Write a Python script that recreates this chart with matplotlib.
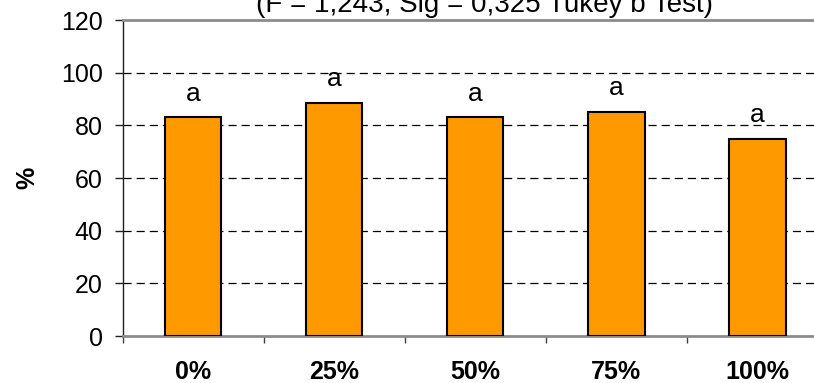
import matplotlib
matplotlib.use("Agg")
import matplotlib.pyplot as plt
import numpy as np

categories = ["0%", "25%", "50%", "75%", "100%"]
values = [83.0, 88.6, 83.0, 85.2, 74.8]
letters = ["a", "a", "a", "a", "a"]
yticks = [0, 20, 40, 60, 80, 100, 120]
title = "(F = 1,243, Sig = 0,325 Tukey b Test)"

plt.rcParams['font.family'] = ['Liberation Sans', 'DejaVu Sans']

fig = plt.figure(figsize=(8.14, 3.83), dpi=100)
ax = fig.add_axes([122.5/814, 47/383, (828-122.5)/814, 316/383])

x = np.arange(len(categories))
ax.bar(x, values, width=0.40, color="#FF9900", edgecolor="black", linewidth=1.5, zorder=3)
for xi, v, l in zip(x, values, letters):
    ax.annotate(l, (xi, v), xytext=(0, 12), textcoords="offset points",
                ha="center", va="baseline", fontsize=19, zorder=4)

ax.set_xlim(-0.5, len(categories) - 0.5)
ax.set_ylim(0, 120)
ax.set_yticks(yticks)
ax.set_yticklabels([str(t) for t in yticks], fontsize=18)
for t in yticks[1:-1]:
    ax.axhline(t, color="black", linestyle=(0, (6.5, 4)), linewidth=0.9, zorder=1)

ax.set_xticks(x)
ax.set_xticklabels(categories, fontsize=18, fontweight="bold")
ax.set_xticks(np.arange(len(categories) + 1) - 0.5, minor=True)
ax.tick_params(axis="x", which="major", length=0, pad=17.5)
ax.tick_params(axis="x", which="minor", length=5, width=1, direction="out", color="#404040")
ax.tick_params(axis="y", length=5.8, width=1, direction="out", pad=8.6, color="#202020")

ax.spines["top"].set_color("#8c8c8c")
ax.spines["top"].set_linewidth(2)
ax.spines["bottom"].set_color("#8c8c8c")
ax.spines["bottom"].set_linewidth(2)
ax.spines["left"].set_color("#202020")
ax.spines["left"].set_linewidth(1)
ax.spines["right"].set_visible(False)

ax.set_ylabel("%", fontsize=18, fontweight="bold")
ax.yaxis.set_label_coords((27 - 122.5) / 705.5, 0.5)
ax.yaxis.label.set_va("center")

fig.text(484/814, 1 - 12/383, title, ha="center", va="baseline", fontsize=20)

fig.savefig("out.png", dpi=100)
